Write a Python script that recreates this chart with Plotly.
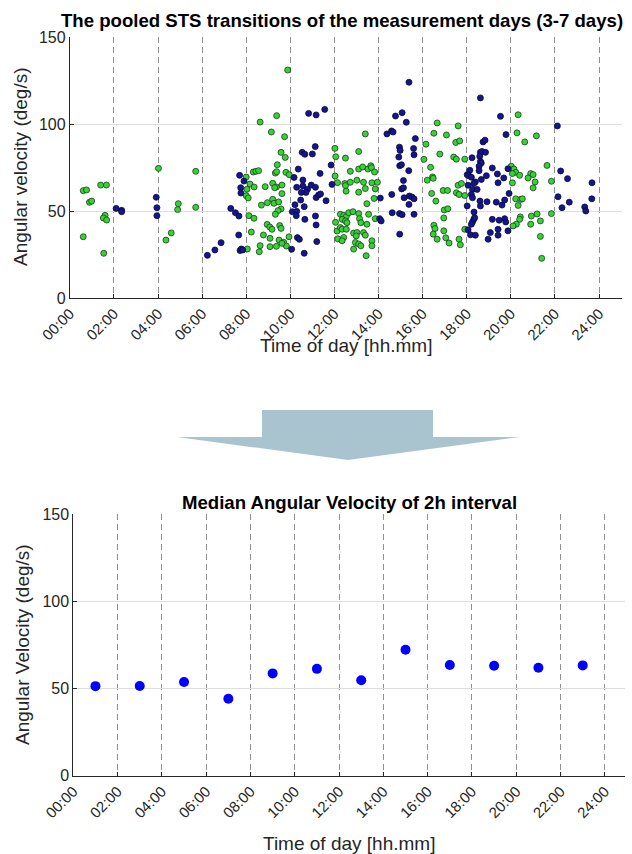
import plotly.graph_objects as go

# ---------------- data ----------------
tick_hours = [0, 2, 4, 6, 8, 10, 12, 14, 16, 18, 20, 22, 24]
tick_labels = ["00:00", "02:00", "04:00", "06:00", "08:00", "10:00", "12:00",
               "14:00", "16:00", "18:00", "20:00", "22:00", "24:00"]

green_hours = [
    0.61, 0.76, 0.89, 0.99, 1.40, 1.66, 1.60, 1.52, 1.67, 0.61, 1.54,
    4.02, 4.92, 4.89, 4.60, 4.36, 5.71, 5.71,
    9.38, 8.63, 9.14, 9.74, 9.58, 9.77, 9.41, 8.32, 8.44, 8.56, 8.00, 9.32, 9.38, 9.80, 9.95,
    8.17, 8.03, 8.36, 8.86, 9.20, 9.37, 9.62, 9.29, 8.00, 8.09, 9.62, 9.20, 9.26, 9.47, 8.96,
    8.69, 9.58, 9.44, 9.32, 8.12, 8.35, 8.95, 9.07, 9.17, 9.52, 9.58, 8.23, 8.78, 9.08, 9.49,
    9.70, 9.94, 8.63, 9.08, 9.37, 9.82, 8.05, 8.59, 9.62, 9.88,
    12.02, 12.06, 12.03, 12.14, 12.05, 12.12, 12.15,
    13.40, 12.50, 13.10, 12.72, 13.10, 13.28, 13.52, 13.65, 13.68, 13.82, 12.47, 12.50, 12.72,
    13.02, 13.32, 13.70, 13.95, 12.53, 13.10, 13.40, 13.85, 13.80, 13.47,
    12.27, 12.42, 12.54, 12.65, 12.84, 13.10, 13.55, 13.85, 12.35, 12.50, 12.57, 13.14, 13.20,
    13.47, 12.27, 12.35, 12.54, 12.87, 13.02, 13.32, 13.40, 12.42, 12.99, 12.35, 12.95, 13.10,
    13.70, 13.70, 12.87, 13.20, 13.44,
    16.66, 16.51, 17.08, 16.15, 16.78, 16.06, 16.36, 16.21, 16.45, 16.48, 16.41, 16.93, 17.13,
    16.60, 16.98, 17.14, 16.96, 16.51, 16.56, 16.48, 16.66, 16.96, 17.05, 17.20,
    17.61, 17.50, 17.68, 17.41, 17.53, 17.91, 17.61, 17.76, 17.53, 17.65, 17.91, 17.91, 17.65, 17.71,
    20.33, 20.28, 20.63, 21.16, 21.64, 20.02, 20.14, 20.22, 20.07, 20.40, 20.90, 21.01, 20.78,
    21.10, 21.01, 20.07, 21.84, 20.22, 20.45, 20.52, 20.33, 20.43, 20.40, 20.25, 20.10, 20.93,
    21.19, 20.90, 21.34, 21.84, 21.34, 21.40,
]
green_vel = [
    61.7, 62.1, 55.0, 55.7, 64.9, 64.9, 47.5, 46.0, 44.8, 35.2, 25.7,
    74.5, 54.2, 50.8, 37.4, 33.3, 72.8, 52.1,
    104.8, 101.1, 95.4, 92.7, 83.7, 80.8, 76.6, 72.4, 72.8, 73.2, 69.5, 71.8, 72.6, 72.2, 70.9,
    65.5, 62.5, 63.8, 64.0, 65.9, 63.8, 64.9, 63.4, 58.8, 57.5, 60.0, 56.7, 54.4, 55.2, 54.8,
    53.4, 51.2, 50.2, 48.1, 47.3, 45.8, 42.3, 40.8, 39.5, 41.6, 40.0, 37.9, 36.2, 34.3, 33.3,
    32.0, 35.2, 30.1, 29.5, 29.7, 29.9, 28.2, 26.6, 31.4, 131.0,
    86.0, 81.2, 70.1, 66.3, 43.5, 38.5, 34.0,
    94.3, 80.4, 84.2, 72.8, 74.1, 75.3, 74.1, 76.0, 74.9, 72.4, 65.8, 64.6, 66.5,
    67.7, 66.5, 66.2, 66.5, 61.4, 60.8, 62.9, 62.7, 57.2, 54.2,
    48.1, 47.5, 46.8, 49.0, 49.6, 48.5, 48.1, 45.6, 45.2, 44.3, 43.3, 45.6, 43.3,
    42.4, 40.5, 39.5, 39.5, 37.3, 37.6, 37.6, 36.1, 34.8, 35.7, 32.9, 31.9, 31.0,
    32.9, 30.0, 28.1, 30.0, 24.3,
    100.6, 94.7, 93.7, 88.4, 82.7, 79.7, 75.1, 67.7, 69.6, 68.8, 60.1, 61.8, 61.8,
    55.7, 50.6, 51.3, 46.0, 41.8, 39.9, 36.7, 33.8, 38.6, 34.6, 31.6,
    98.9, 89.4, 90.3, 81.0, 79.8, 79.8, 64.8, 65.8, 60.5, 59.5, 58.9, 39.5, 33.8, 30.6,
    105.3, 94.9, 89.7, 93.2, 76.2, 75.7, 74.1, 72.2, 71.5, 70.5, 71.5, 70.9, 69.0,
    66.7, 63.3, 66.2, 67.1, 57.0, 56.7, 57.0, 53.2, 46.6, 45.2, 42.4, 41.4, 47.1,
    48.3, 42.4, 44.3, 48.5, 35.4, 22.8,
]

blue_hours = [
    2.10, 2.35, 2.35, 3.92, 3.95, 3.95,
    6.24, 6.58, 6.86, 7.30, 7.51, 7.67, 7.66, 7.72, 7.78, 7.84, 7.70, 7.75, 7.76, 7.90,
    10.83, 11.17, 11.56, 11.13, 10.54, 10.66, 11.00, 10.36, 10.17, 11.35, 11.85, 10.57, 10.29,
    10.57, 10.78, 10.95, 11.14, 10.71, 10.50, 10.47, 11.17, 11.28, 11.37, 11.62, 11.89, 10.21,
    10.63, 10.09, 10.29, 10.27, 10.66, 11.14, 11.17, 10.32, 10.41, 11.20, 10.06, 10.63,
    15.38, 14.77, 15.07, 15.26, 14.38, 14.59, 14.66, 15.67, 14.95, 14.98, 15.59, 15.61, 14.92,
    14.96, 15.04, 15.37, 15.13, 15.05, 15.13, 14.60, 15.16, 15.40, 15.52, 15.61, 15.38, 14.08,
    14.05, 14.12, 14.62, 14.95, 15.07, 15.61, 14.96,
    18.62, 19.53, 19.78, 18.74, 18.83, 18.62, 18.69, 18.85, 18.59, 18.62, 18.66, 18.56, 18.24,
    18.14, 18.02, 18.09, 18.56, 19.16, 19.39, 19.68, 19.87, 18.21, 18.39, 18.32, 18.06, 18.26,
    18.47, 18.66, 18.89, 19.42, 18.21, 18.26, 18.02, 18.60, 18.62, 18.92, 19.34, 19.60, 19.72,
    19.92, 18.33, 18.32, 18.26, 18.36, 18.21, 19.16, 19.47, 19.72, 19.77, 19.87, 18.06, 18.17,
    18.39, 19.07, 18.97, 19.42, 19.42,
    22.11, 22.26, 22.14, 22.32, 22.57, 23.68, 22.65, 23.67, 23.35, 23.40,
]
blue_vel = [
    51.5, 50.4, 49.6, 57.9, 51.9, 47.3,
    24.5, 27.6, 31.8, 51.5, 49.0, 47.1, 36.2, 27.3, 28.2, 27.6, 70.5, 63.4, 60.3, 67.2,
    106.1, 105.2, 108.4, 87.0, 83.7, 82.6, 82.8, 74.1, 69.3, 71.6, 76.4, 67.8, 63.6,
    64.4, 62.5, 64.9, 63.6, 60.7, 60.7, 56.3, 57.7, 59.2, 59.8, 55.9, 65.3, 53.6,
    52.5, 49.6, 49.8, 47.3, 45.2, 47.1, 42.0, 34.7, 33.7, 32.4, 28.0, 25.7,
    124.0, 104.6, 106.5, 101.0, 94.3, 96.0, 95.4, 91.6, 86.7, 84.8, 85.9, 82.3, 81.0,
    76.0, 76.6, 73.2, 67.5, 62.7, 63.3, 59.5, 57.6, 58.6, 58.0, 57.0, 53.8, 57.4,
    45.6, 44.3, 49.0, 48.5, 47.9, 48.1, 36.7,
    115.0, 104.4, 93.9, 89.7, 90.7, 83.7, 84.2, 83.7, 81.4, 78.5, 77.6, 75.7, 80.6,
    73.4, 70.9, 70.3, 73.2, 74.7, 71.3, 69.0, 74.3, 69.4, 66.7, 65.8, 64.8, 62.4,
    62.4, 68.1, 70.3, 66.2, 59.5, 57.6, 52.9, 55.7, 52.9, 55.3, 55.1, 53.4, 56.3,
    60.1, 49.4, 45.2, 43.7, 46.2, 42.4, 45.2, 44.7, 45.6, 43.7, 38.6, 39.2, 36.3,
    36.1, 37.6, 33.8, 39.5, 36.1,
    98.9, 73.0, 58.2, 51.9, 68.6, 66.2, 55.1, 57.0, 52.3, 50.0,
]

median_hours = [1, 3, 5, 7, 9, 11, 13, 15, 17, 19, 21, 23]
median_vel = [51.4, 51.5, 53.8, 44.2, 58.7, 61.3, 54.8, 72.3, 63.5, 63.1, 61.9, 63.3]

# ---------------- figure ----------------
W, H = 632, 854
FONT = "Liberation Sans, Arial, sans-serif"
TXT = "#262626"


def px_x(x):
    return x / W


def px_y(y):
    return 1 - y / H


fig = go.Figure()

fig.add_trace(go.Scatter(
    x=green_hours, y=green_vel, mode="markers", xaxis="x", yaxis="y",
    marker=dict(size=6, color="#35d435", line=dict(color="#1f3a1f", width=0.8)),
    showlegend=False, hoverinfo="x+y"))
fig.add_trace(go.Scatter(
    x=blue_hours, y=blue_vel, mode="markers", xaxis="x", yaxis="y",
    marker=dict(size=6, color="#15158e", line=dict(color="#0a0a3a", width=0.8)),
    showlegend=False, hoverinfo="x+y"))
fig.add_trace(go.Scatter(
    x=median_hours, y=median_vel, mode="markers", xaxis="x2", yaxis="y2",
    marker=dict(size=10, color="#0000ff", line=dict(width=0)),
    showlegend=False, hoverinfo="x+y"))

xcommon = dict(
    tickmode="array", tickvals=tick_hours, ticktext=tick_labels, tickangle=-45,
    showgrid=True, gridcolor="#8f8f8f", gridwidth=1, griddash="6px,4px",
    showline=True, linecolor=TXT, linewidth=1, zeroline=False,
    ticks="inside", ticklen=4, tickcolor=TXT, automargin=False,
    tickfont=dict(family=FONT, size=15, color=TXT),
)
ycommon = dict(
    range=[0, 150], tickmode="array", tickvals=[0, 50, 100, 150],
    showgrid=True, gridcolor="#dedede", gridwidth=1,
    showline=True, linecolor=TXT, linewidth=1, zeroline=False,
    ticks="inside", ticklen=4, tickcolor=TXT, automargin=False,
    tickfont=dict(family=FONT, size=16, color=TXT),
)

fig.update_layout(
    width=W, height=H,
    margin=dict(l=0, r=0, t=0, b=0),
    paper_bgcolor="white", plot_bgcolor="white",
    xaxis=dict(domain=[px_x(69.8), px_x(622.2)], range=[0, 25.05], anchor="y", **xcommon),
    yaxis=dict(domain=[px_y(298), px_y(37)], anchor="x", **ycommon),
    xaxis2=dict(domain=[px_x(73.3), px_x(624.8)], range=[0, 24.9], anchor="y2", **xcommon),
    yaxis2=dict(domain=[px_y(775.7), px_y(514.3)], anchor="x2", **ycommon),
)

annots = [
    dict(text="<b>The pooled STS transitions of the measurement days (3-7 days)</b>",
         x=px_x(342), y=px_y(20), size=18.6),
    dict(text="<b>Median Angular Velocity of 2h interval</b>",
         x=px_x(350), y=px_y(502), size=18.6),
    dict(text="Time of day [hh.mm]", x=px_x(346), y=px_y(345), size=19),
    dict(text="Time of day [hh.mm]", x=px_x(349), y=px_y(843), size=19),
]
for a in annots:
    fig.add_annotation(text=a["text"], x=a["x"], y=a["y"], xref="paper", yref="paper",
                       xanchor="center", yanchor="middle", showarrow=False,
                       font=dict(family=FONT, size=a["size"], color="#000000" if "<b>" in a["text"] else TXT))

fig.add_annotation(text="Angular velocity (deg/s)", x=px_x(20), y=px_y(167), xref="paper", yref="paper",
                   xanchor="center", yanchor="middle", showarrow=False, textangle=-90,
                   font=dict(family=FONT, size=19, color=TXT))
fig.add_annotation(text="Angular Velocity (deg/s)", x=px_x(22), y=px_y(645), xref="paper", yref="paper",
                   xanchor="center", yanchor="middle", showarrow=False, textangle=-90,
                   font=dict(family=FONT, size=19, color=TXT))

# arrow between the panels (decoration)
arrow_pts = [(262, 410), (433, 410), (433, 437), (520, 437), (348, 460), (177, 437), (262, 437)]
path = "M " + " L ".join(f"{px_x(x):.5f},{px_y(y):.5f}" for x, y in arrow_pts) + " Z"
fig.add_shape(type="path", path=path, xref="paper", yref="paper",
              fillcolor="#a9c4cf", line=dict(width=0), layer="below")

fig.write_html("out.html", config={"displayModeBar": False},
               post_script="document.body.style.margin='0px';")
